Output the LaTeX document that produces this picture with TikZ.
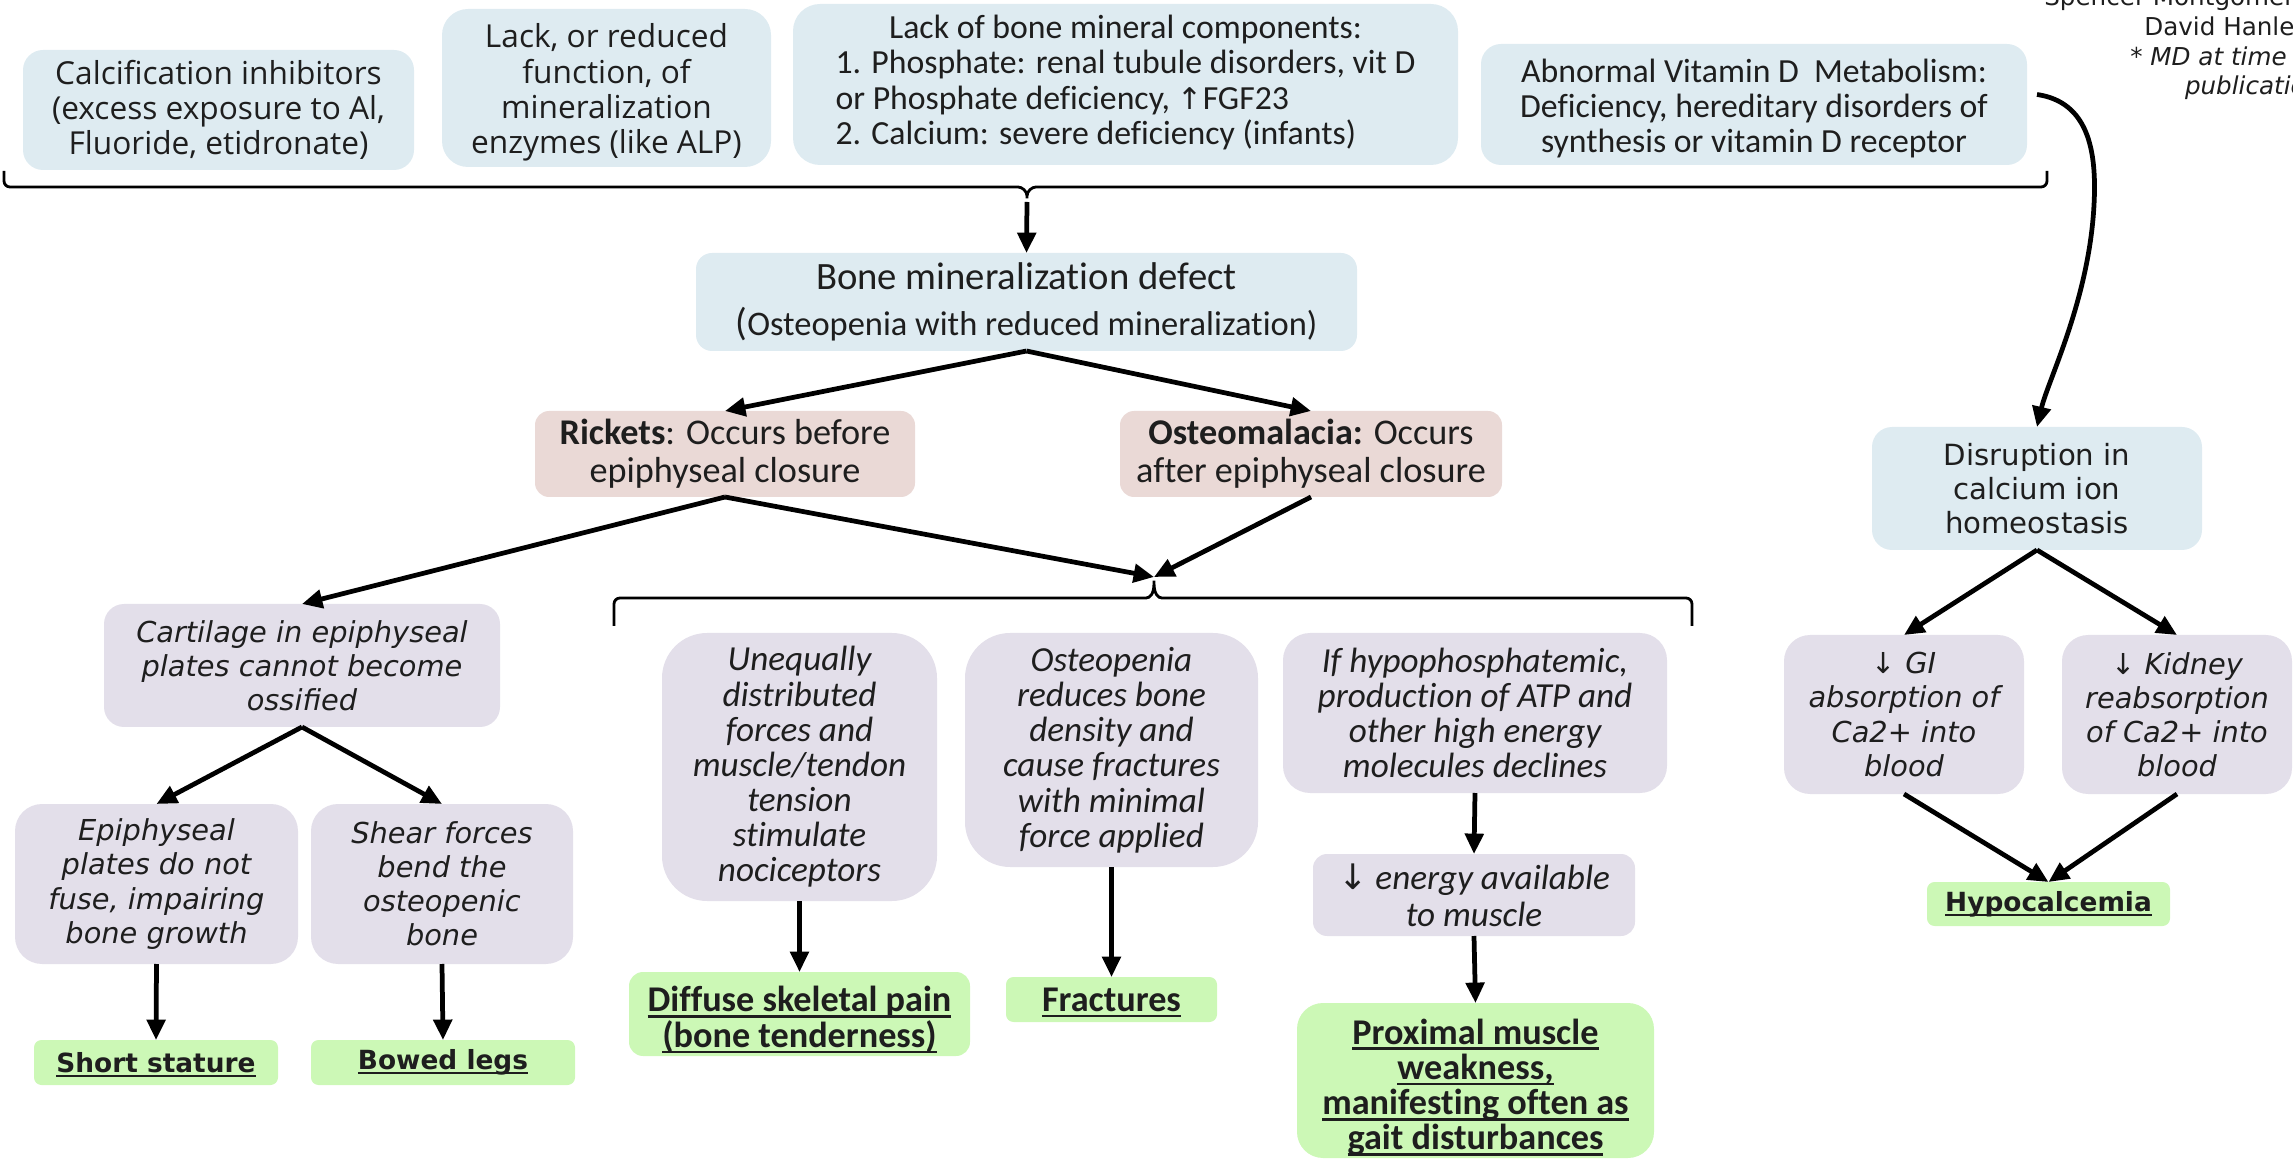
\documentclass[tikz,border=0pt]{standalone}
\usepackage{fontspec}
\setmainfont{Carlito}[Ligatures={NoCommon}]
\newfontfamily\osans{Open Sans}
\newfontfamily\dvs{DejaVu Sans}
\usetikzlibrary{arrows.meta}
\definecolor{cblue}{HTML}{DEEBF1}
\definecolor{cpink}{HTML}{EAD9D6}
\definecolor{clav}{HTML}{E3DFEA}
\definecolor{cgreen}{HTML}{CCF8B6}
\definecolor{txt}{HTML}{1E1E1E}
\tikzset{
  bx/.style args={#1/#2/#3/#4}{minimum width={((#3)-(#1))*0.01cm},
     minimum height={((#4)-(#2))*0.01cm}, at={({((#1)+(#3))/2},{((#2)+(#4))/2})}},
  box/.style={draw=none, inner sep=0pt, outer sep=0pt, align=center, text=txt},
  bluebox/.style={box, fill=cblue},
  pinkbox/.style={box, fill=cpink},
  lavbox/.style={box, fill=clav},
  greenbox/.style={box, fill=cgreen},
  arr/.style={draw=black, line width=1.35pt, -{Triangle[length=5.8pt,width=5.2pt]}},
  brk/.style={draw=black, line width=0.8pt},
  fos/.style={font=\osans\fontsize{9pt}{10pt}\selectfont},
  fca/.style={font=\fontsize{9.6pt}{10pt}\selectfont},
  frk/.style={font=\fontsize{10.3pt}{10.8pt}\selectfont},
  fdo/.style={font=\dvs\itshape\fontsize{8.2pt}{9.7pt}\selectfont},
  fdb/.style={font=\dvs\bfseries\fontsize{7.5pt}{9pt}\selectfont},
  fci/.style={font=\itshape\fontsize{10pt}{10pt}\selectfont},
  fcb/.style={font=\bfseries\fontsize{10.3pt}{10pt}\selectfont},
  fdu/.style={font=\dvs\fontsize{8.3pt}{9.6pt}\selectfont},
}
\newcommand{\dar}{{\dvs\upshape ↓}}
% invisible strut that lowers a centred block a little
\newcommand{\tup}[1]{\rule{0pt}{#1}}
% underline that does not change the line's height or depth
\newsavebox{\ulbox}
\newcommand{\ul}[1]{\sbox\ulbox{#1}\rlap{\raisebox{0pt}[0pt][0pt]{\rule[-0.17em]{\wd\ulbox}{0.075em}}}\usebox\ulbox}
\begin{document}
\lineskiplimit=-20pt
\lineskip=0pt
\begin{tikzpicture}[x=0.01cm,y=-0.01cm]
\useasboundingbox (0,0) rectangle (2293,1161);
\clip (0,0) rectangle (2293,1161);

% author text (cut at the right edge)
\node[anchor=north east, align=right, inner sep=0pt, text=txt,
      font=\dvs\fontsize{7pt}{8.4pt}\selectfont] (auth) at (2322,-13)
  {Spencer Montgomery*\\David Hanley*\\\textit{* MD at time of}\\\textit{publication}};

% top row
\node[bluebox, fos, rounded corners=0.2cm, bx=23/50/414/170] (calc)
  {Calcification inhibitors\\(excess exposure to Al,\\Fluoride, etidronate)};
\node[bluebox, fos, rounded corners=0.26cm, bx=442/9/771/167] (lack)
  {\tup{9.4pt}Lack, or reduced\\function, of\\mineralization\\enzymes (like ALP)};
\node[bluebox, fca, rounded corners=0.27cm, bx=793/4/1458/165] (mineral)
  {\raisebox{-1.3pt}{\lineskiplimit=0pt\begin{tabular}{@{}l@{}}\multicolumn{1}{@{}c@{}}{Lack of bone mineral components:}\\
   1. Phosphate: renal tubule disorders, vit D\\
   or Phosphate deficiency, {\dvs\fontsize{8.5pt}{10pt}\selectfont ↑}FGF23\\
   2. Calcium: severe deficiency (infants)\end{tabular}}};
\node[bluebox, fca, rounded corners=0.2cm, bx=1481/44/2027/165] (vitd)
  {\tup{9pt}Abnormal Vitamin D\ \ Metabolism:\\Deficiency, hereditary disorders of\\synthesis or vitamin D receptor};

% top brace
\coordinate (tip1) at (1027,202);
\draw[brk, rounded corners=0.06cm] (4,171) -- (4,187) -- (1012,187)
  .. controls (1022,187) and (1027,191) .. (tip1)
  .. controls (1027,191) and (1032,187) .. (1042,187) -- (2047,187) -- (2047,171);

\node[bluebox, rounded corners=0.16cm, bx=696/253/1357/351,
      font=\fontsize{11pt}{13pt}\selectfont] (bone)
  {Bone mineralization defect\\{\fontsize{9.8pt}{13pt}\selectfont{\fontsize{11pt}{13pt}\selectfont(}Osteopenia with reduced mineralization)}};

\node[pinkbox, frk, rounded corners=0.14cm, bx=535/411/915/497] (rick)
  {\textbf{Rickets}: Occurs before\\epiphyseal closure};
\node[pinkbox, frk, rounded corners=0.14cm, bx=1120/411/1502/497] (osteo)
  {\textbf{Osteomalacia:} Occurs\\after epiphyseal closure};

% second brace
\coordinate (tip2) at (1154,577);
\draw[brk, rounded corners=0.06cm] (614,626) -- (614,598) -- (1140,598)
  .. controls (1150,598) and (1154,594) .. (tip2)
  .. controls (1154,594) and (1158,598) .. (1168,598) -- (1692,598) -- (1692,626);

% rickets branch
\node[lavbox, fdo, rounded corners=0.2cm, bx=104/604/500/727] (cart)
  {Cartilage in epiphyseal\\plates cannot become\\ossified};
\node[lavbox, fdo, rounded corners=0.27cm, bx=15/804/298/964] (epi)
  {Epiphyseal\\plates do not\\fuse, impairing\\bone growth};
\node[lavbox, fdo, rounded corners=0.27cm, bx=311/804/573/964] (shear)
  {Shear forces\\bend the\\osteopenic\\bone};
\node[greenbox, fdb, rounded corners=0.075cm, bx=34/1040/278/1085] (short)
  {\ul{Short stature}};
\node[greenbox, fdb, rounded corners=0.075cm, bx=311/1040/575/1085] (bowed)
  {\ul{Bowed legs}};

% common branch
\node[lavbox, fci, rounded corners=0.45cm, bx=662/633/937/901] (uneq)
  {Unequally\\distributed\\forces and\\muscle/tendon\\tension\\stimulate\\nociceptors};
\node[lavbox, fci, rounded corners=0.45cm, bx=965/633/1258/867] (openia)
  {Osteopenia\\reduces bone\\density and\\cause fractures\\with minimal\\force applied};
\node[lavbox, fci, rounded corners=0.27cm, bx=1283/633/1667/793] (hypo)
  {If hypophosphatemic,\\production of ATP and\\other high energy\\molecules declines};
\node[lavbox, rounded corners=0.14cm, bx=1313/854/1635/936,
      font=\itshape\fontsize{10pt}{10.6pt}\selectfont] (energy)
  {\dar\ energy available\\to muscle};
\node[greenbox, fcb, rounded corners=0.14cm, bx=629/972/970/1056] (diffuse)
  {\tup{10.4pt}\ul{Diffuse skeletal pain}\\\ul{(bone tenderness)}};
\node[greenbox, fcb, rounded corners=0.075cm, bx=1006/977/1217/1022] (fract)
  {\ul{Fractures}};
\node[greenbox, rounded corners=0.26cm, bx=1297/1003/1654/1158,
      font=\bfseries\fontsize{10.3pt}{10pt}\selectfont] (prox)
  {\tup{11pt}\ul{Proximal muscle}\\\ul{weakness,}\\\ul{manifesting often as}\\\ul{gait disturbances}};

% calcium branch
\node[bluebox, fdu, rounded corners=0.2cm, bx=1872/427/2202/550] (disr)
  {Disruption in\\calcium ion\\homeostasis};
\node[lavbox, fdo, rounded corners=0.26cm, bx=1784/635/2024/794] (gi)
  {\dar\ GI\\absorption of\\Ca2+ into\\blood};
\node[lavbox, fdo, rounded corners=0.26cm, bx=2062/635/2292/794] (kid)
  {\dar\ Kidney\\reabsorption\\of Ca2+ into\\blood};
\node[greenbox, fdb, rounded corners=0.075cm, bx=1927/882/2170/926] (hypoc)
  {\ul{Hypocalcemia}};

% connectors
\draw[arr] (tip1) -- (bone.north);
\draw[arr] (bone.south) -- (rick.north);
\draw[arr] (bone.south) -- (osteo.north);
\draw[arr] (rick.south) -- (cart.north);
\draw[arr] (rick.south) -- (tip2);
\draw[arr] (osteo.south) -- (tip2);
\draw[arr] (cart.south) -- (epi.north);
\draw[arr] (cart.south) -- (shear.north);
\draw[arr] (epi.south) -- (short.north);
\draw[arr] (shear.south) -- (bowed.north);
\draw[arr] (uneq.south) -- (diffuse.north);
\draw[arr] (openia.south) -- (fract.north);
\draw[arr] (hypo.south) -- (energy.north);
\draw[arr] (energy.south) -- (prox.north);
\draw[arr] ([xshift=0.1cm,yshift=0.1cm]vitd.east)
  .. controls (2088,102) and (2097,150) .. (2094,205)
  .. controls (2089,300) and (2048,380) .. (disr.north);
\draw[arr] (disr.south) -- (gi.north);
\draw[arr] (disr.south) -- (kid.north);
\draw[arr] (gi.south) -- (hypoc.north);
\draw[arr] (kid.south) -- (hypoc.north);
\end{tikzpicture}
\end{document}
